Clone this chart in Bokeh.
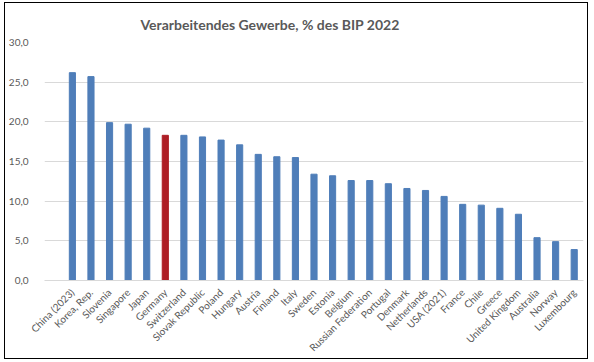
from math import pi
from bokeh.plotting import figure
from bokeh.models import ColumnDataSource, Range1d, FixedTicker, Title
from bokeh.embed import file_html
from bokeh.resources import INLINE

countries = ["China (2023)", "Korea, Rep.", "Slovenia", "Singapore", "Japan", "Germany",
             "Switzerland", "Slovak Republic", "Poland", "Hungary", "Austria", "Finland",
             "Italy", "Sweden", "Estonia", "Belgium", "Russian Federation", "Portugal",
             "Denmark", "Netherlands", "USA (2021)", "France", "Chile", "Greece",
             "United Kingdom", "Australia", "Norway", "Luxembourg"]
values = [26.2, 25.7, 19.9, 19.7, 19.2, 18.3, 18.3, 18.1, 17.7, 17.1, 15.9, 15.6,
          15.5, 13.4, 13.2, 12.6, 12.6, 12.2, 11.6, 11.35, 10.6, 9.6, 9.5, 9.1,
          8.35, 5.4, 4.9, 3.9]
highlight = "Germany"
y_ticks = [0, 5, 10, 15, 20, 25, 30]

BLUE = "#4F7EB9"
RED = "#AE1F26"

xs = list(range(len(countries)))
colors = [RED if c == highlight else BLUE for c in countries]
src = ColumnDataSource(dict(x=xs, top=values, color=colors, name=countries))

p = figure(width=584, height=357, output_backend="svg", toolbar_location=None,
           x_range=Range1d(-1.5, len(countries) - 0.5), y_range=Range1d(0, 30),
           min_border_left=38, min_border_right=6, min_border_top=39, min_border_bottom=10)
p.title = Title(text="Verarbeitendes Gewerbe, % des BIP 2022", align="left", offset=96,
                standoff=19, text_font="Lato", text_font_size="14px", text_font_style="bold",
                text_color="#595959")

p.vbar(x="x", top="top", width=0.33, color="color", source=src)

p.xaxis.ticker = FixedTicker(ticks=xs)
p.xaxis.major_label_overrides = {i: c for i, c in enumerate(countries)}
p.xaxis.major_label_orientation = pi / 4
p.xaxis.major_label_text_font = "Lato"
p.xaxis.major_label_text_font_size = "10px"
p.xaxis.major_label_text_color = "#595959"
p.xaxis.axis_line_color = "#D9D9D9"
p.xaxis.major_tick_line_color = None
p.xaxis.minor_tick_line_color = None
p.xaxis.major_label_standoff = 4

p.yaxis.ticker = FixedTicker(ticks=y_ticks)
p.yaxis.major_label_overrides = {t: f"{t:.1f}".replace(".", ",") for t in y_ticks}
p.yaxis.major_label_text_font = "Lato"
p.yaxis.major_label_text_font_size = "10px"
p.yaxis.major_label_text_color = "#595959"
p.yaxis.axis_line_color = None
p.yaxis.major_tick_line_color = None
p.yaxis.minor_tick_line_color = None
p.yaxis.major_label_standoff = 10

p.xgrid.grid_line_color = None
p.ygrid.grid_line_color = "#D9D9D9"
p.outline_line_color = None
p.styles = {"border": "1px solid #000", "margin-left": "4px", "margin-top": "2px"}

open("out.html", "w").write(file_html(p, INLINE))
